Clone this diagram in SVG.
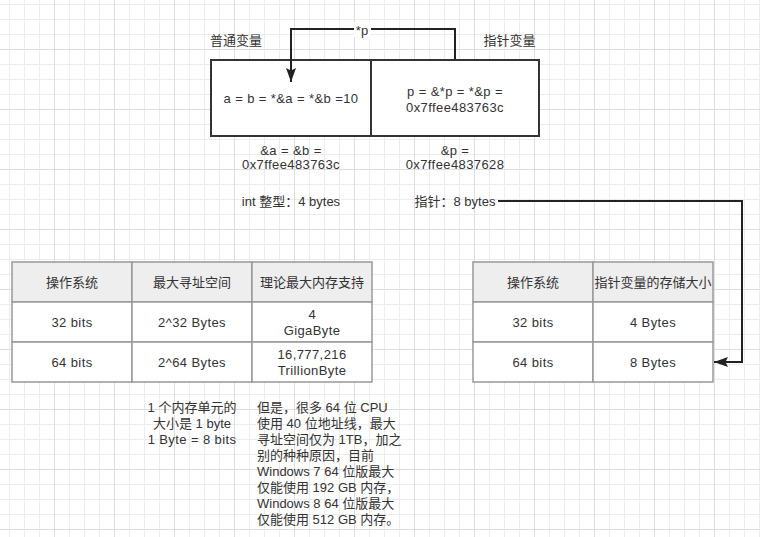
<svg xmlns="http://www.w3.org/2000/svg" width="760" height="537" viewBox="0 0 760 537">
  <defs>
    <!-- background grid: minor every 15px, major every 60px -->
    <pattern id="grid" x="54" y="49" width="60" height="60" patternUnits="userSpaceOnUse">
      <path d="M15.5,0V60M30.5,0V60M45.5,0V60M0,15.5H60M0,30.5H60M0,45.5H60" stroke="#ececec" stroke-width="1" fill="none"/>
      <path d="M0.5,0V60M0,0.5H60" stroke="#dedede" stroke-width="1" fill="none"/>
    </pattern>
    <marker id="arrow" viewBox="0 0 14 10" markerWidth="14" markerHeight="10" refX="14" refY="5" orient="auto" markerUnits="userSpaceOnUse">
      <path d="M0,0 L14,5 L0,10 L2.5,5 z" fill="#222"/>
    </marker>
  </defs>
  <style>
    text { font-family: "Liberation Sans", "Noto Sans CJK SC", sans-serif; font-size: 13px; fill: #333; }
    .c { text-anchor: middle; }
    .lat { letter-spacing: 0.4px; }
    .box { fill: #fff; stroke: #333; stroke-width: 2; }
    .cell { fill: #fff; stroke: #999; stroke-width: 1.5; }
    .head { fill: #eeeeee; stroke: #999; stroke-width: 1.5; }
    .wire { fill: none; stroke: #222; stroke-width: 2; }
  </style>

  <rect width="760" height="537" fill="#fff"/>
  <rect width="760" height="537" fill="url(#grid)"/>

  <!-- variable boxes -->
  <g id="normal-var">
    <text x="236" y="44.5" class="c">普通变量</text>
    <rect x="211" y="60" width="160" height="76" class="box"/>
    <text x="291" y="102.5" class="c lat">a = b = *&amp;a = *&amp;b =10</text>
  </g>
  <g id="pointer-var">
    <text x="509.5" y="44.5" class="c">指针变量</text>
    <rect x="371" y="60" width="168" height="76" class="box"/>
    <text x="455" y="96" class="c lat">p = &amp;*p = *&amp;p =</text>
    <text x="455" y="111.5" class="c lat">0x7ffee483763c</text>
  </g>

  <g id="addr-a">
    <text x="291" y="154.5" class="c lat">&amp;a = &amp;b =</text>
    <text x="291" y="169" class="c lat">0x7ffee483763c</text>
  </g>
  <g id="addr-p">
    <text x="455" y="154.5" class="c lat">&amp;p =</text>
    <text x="455" y="169" class="c lat">0x7ffee4837628</text>
  </g>
  <g id="int-size">
    <text x="291" y="205.5" class="c">int 整型：4 bytes</text>
  </g>
  <g id="ptr-size">
    <text x="455" y="205.5" class="c">指针：8 bytes</text>
  </g>

  <!-- address space table -->
  <g id="addr-table">
    <rect x="12" y="262" width="120" height="40" class="head"/>
    <rect x="132" y="262" width="120" height="40" class="head"/>
    <rect x="252" y="262" width="120" height="40" class="head"/>
    <rect x="12" y="302" width="120" height="40" class="cell"/>
    <rect x="132" y="302" width="120" height="40" class="cell"/>
    <rect x="252" y="302" width="120" height="40" class="cell"/>
    <rect x="12" y="342" width="120" height="40" class="cell"/>
    <rect x="132" y="342" width="120" height="40" class="cell"/>
    <rect x="252" y="342" width="120" height="40" class="cell"/>
    <text x="72" y="286.5" class="c">操作系统</text>
    <text x="192" y="286.5" class="c">最大寻址空间</text>
    <text x="312" y="286.5" class="c">理论最大内存支持</text>
    <text x="72" y="326.5" class="c lat">32 bits</text>
    <text x="192" y="326.5" class="c lat">2^32 Bytes</text>
    <text x="312" y="318.5" class="c">4</text>
    <text x="312" y="334.5" class="c lat">GigaByte</text>
    <text x="72" y="366.5" class="c lat">64 bits</text>
    <text x="192" y="366.5" class="c lat">2^64 Bytes</text>
    <text x="312" y="358.5" class="c lat">16,777,216</text>
    <text x="312" y="375" class="c lat">TrillionByte</text>
  </g>

  <!-- pointer size table -->
  <g id="ptr-table">
    <rect x="473" y="262" width="120" height="40" class="head"/>
    <rect x="593" y="262" width="120" height="40" class="head"/>
    <rect x="473" y="302" width="120" height="40" class="cell"/>
    <rect x="593" y="302" width="120" height="40" class="cell"/>
    <rect x="473" y="342" width="120" height="40" class="cell"/>
    <rect x="593" y="342" width="120" height="40" class="cell"/>
    <text x="533" y="286.5" class="c">操作系统</text>
    <text x="653" y="286.5" class="c">指针变量的存储大小</text>
    <text x="533" y="326.5" class="c lat">32 bits</text>
    <text x="653" y="326.5" class="c lat">4 Bytes</text>
    <text x="533" y="366.5" class="c lat">64 bits</text>
    <text x="653" y="366.5" class="c lat">8 Bytes</text>
  </g>

  <!-- notes -->
  <g id="unit-note">
    <text x="192" y="411.5" class="c">1 个内存单元的</text>
    <text x="192" y="427.5" class="c">大小是 1 byte</text>
    <text x="192" y="443.5" class="c lat">1 Byte = 8 bits</text>
  </g>
  <g id="cpu-note">
    <text x="257" y="411.5">但是，很多 64 位 CPU</text>
    <text x="257" y="427.5">使用 40 位地址线，最大</text>
    <text x="257" y="443.5">寻址空间仅为 1TB，加之</text>
    <text x="257" y="459.5">别的种种原因，目前</text>
    <text x="257" y="475.5">Windows 7 64 位版最大</text>
    <text x="257" y="491.5">仅能使用 192 GB 内存，</text>
    <text x="257" y="507.5">Windows 8 64 位版最大</text>
    <text x="257" y="523.5">仅能使用 512 GB 内存。</text>
  </g>

  <!-- connectors -->
  <g id="connectors">
    <path d="M455,59 V29 H291 V82" class="wire" marker-end="url(#arrow)"/>
    <rect x="354" y="22" width="17" height="15" fill="#fff"/>
    <text x="362" y="35" class="c">*p</text>
    <path d="M498,201 H742 V362 H714" class="wire" marker-end="url(#arrow)"/>
  </g>
</svg>
